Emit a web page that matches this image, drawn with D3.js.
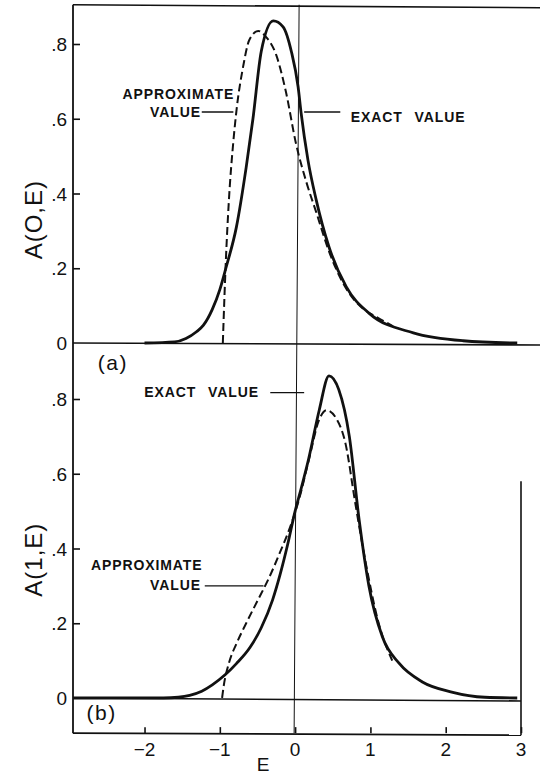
<!DOCTYPE html>
<html>
<head>
<script src="https://cdn.jsdelivr.net/npm/d3@7"></script>
<style>
  body { margin: 0; background: #fff; }
  text { font-family: "Liberation Sans", Arial, sans-serif; fill: #111; }
</style>
</head>
<body>
<div id="chart"></div>
<script>
// panel (a): A(0,E)
var exactA = [[-2.0,0],[-1.6,0.003],[-1.45,0.012],[-1.31,0.03],[-1.22,0.047],[-1.1,0.09],[-1.0,0.143],[-0.92,0.2],[-0.78,0.31],[-0.65,0.47],[-0.56,0.6],[-0.45,0.78],[-0.29,0.862],[-0.16,0.846],[-0.05,0.78],[0.04,0.685],[0.08,0.615],[0.17,0.49],[0.28,0.383],[0.45,0.257],[0.68,0.15],[0.98,0.08],[1.57,0.027],[2.23,0.006],[2.95,0]];
var approxA = [[-0.96,0],[-0.94,0.116],[-0.92,0.22],[-0.88,0.38],[-0.82,0.54],[-0.78,0.62],[-0.69,0.74],[-0.61,0.81],[-0.49,0.835],[-0.39,0.82],[-0.25,0.77],[-0.12,0.67],[0.01,0.535],[0.15,0.43],[0.28,0.35],[0.45,0.245],[0.68,0.145],[0.9,0.092],[1.08,0.07],[1.3,0.045]];
// panel (b): A(1,E)
var exactB = [[-2.95,0],[-1.75,0],[-1.55,0.002],[-1.4,0.007],[-1.24,0.018],[-1.1,0.035],[-0.93,0.062],[-0.78,0.092],[-0.6,0.135],[-0.45,0.188],[-0.3,0.262],[-0.2,0.33],[-0.1,0.41],[0,0.5],[0.08,0.56],[0.18,0.64],[0.32,0.77],[0.45,0.862],[0.58,0.825],[0.72,0.7],[0.85,0.477],[0.98,0.3],[1.16,0.163],[1.38,0.093],[1.69,0.043],[2.08,0.016],[2.52,0.002],[2.95,0]];
var approxB = [[-0.97,0],[-0.95,0.03],[-0.88,0.093],[-0.78,0.145],[-0.65,0.2],[-0.5,0.26],[-0.35,0.32],[-0.2,0.39],[-0.08,0.45],[0.05,0.53],[0.18,0.635],[0.32,0.745],[0.42,0.77],[0.53,0.753],[0.67,0.68],[0.8,0.52],[0.93,0.37],[1.11,0.2],[1.29,0.1]];

var yTicks = [0, 0.2, 0.4, 0.6, 0.8];
var yTickLabels = ["0", ".2", ".4", ".6", ".8"];
var xTicks = [-2, -1, 0, 1, 2, 3];
var xTickLabels = ["\u22122", "\u22121", "0", "1", "2", "3"];

var W = 540, H = 776;
var svg = d3.select("#chart").append("svg").attr("width", W).attr("height", H);

var x = d3.scaleLinear().domain([-2.95, 3]).range([73, 521]);
var yA = d3.scaleLinear().domain([0, 0.8]).range([343, 44]);
var yB = d3.scaleLinear().domain([0, 0.8]).range([698, 399]);

var frameTop = yA(0.905), frameBottom = yB(-0.094);

// frame
svg.append("line").attr("x1", x(-2.95)).attr("x2", W).attr("y1", frameTop).attr("y2", frameTop + 3)
  .attr("stroke", "#111").attr("stroke-width", 1.6);
svg.append("line").attr("x1", x(-2.95)).attr("x2", x(-2.95)).attr("y1", frameTop).attr("y2", frameBottom)
  .attr("stroke", "#111").attr("stroke-width", 1.8);
svg.append("line").attr("x1", x(-2.95)).attr("x2", x(3)).attr("y1", frameBottom).attr("y2", frameBottom + 2)
  .attr("stroke", "#111").attr("stroke-width", 1.8);
svg.append("line").attr("x1", x(3)).attr("x2", x(3)).attr("y1", yB(0.58)).attr("y2", frameBottom + 2)
  .attr("stroke", "#111").attr("stroke-width", 1.6);
// E = 0 line
svg.append("line").attr("x1", x(0) + 4).attr("x2", x(0) - 1).attr("y1", frameTop).attr("y2", frameBottom)
  .attr("stroke", "#111").attr("stroke-width", 1);
// zero baselines
svg.append("line").attr("x1", x(-2.95)).attr("x2", W).attr("y1", yA(0)).attr("y2", yA(0) + 2)
  .attr("stroke", "#111").attr("stroke-width", 1.6);
svg.append("line").attr("x1", x(-2.95)).attr("x2", x(3)).attr("y1", yB(0)).attr("y2", yB(0) + 3)
  .attr("stroke", "#111").attr("stroke-width", 1.6);

function yAxis(y) {
  var ax = d3.axisRight(y).tickValues(yTicks.slice(1)).tickSize(7).tickFormat("");
  svg.append("g").attr("transform", "translate(" + x(-2.95) + ",0)").call(ax)
    .call(function (s) { s.select(".domain").remove(); s.selectAll("line").attr("stroke", "#111").attr("stroke-width", 1.6); });
  svg.append("g").selectAll("text").data(yTicks).enter().append("text")
    .attr("x", x(-2.95) - 6).attr("y", function (d) { return y(d) + 7; })
    .attr("text-anchor", "end").attr("font-size", 19)
    .text(function (d, i) { return yTickLabels[i]; });
}
yAxis(yA);
yAxis(yB);

// bottom E axis
var xa = d3.axisTop(x).tickValues(xTicks).tickSize(6).tickFormat("");
svg.append("g").attr("transform", "translate(0," + frameBottom + ")").call(xa)
  .call(function (s) { s.select(".domain").remove(); s.selectAll("line").attr("stroke", "#111").attr("stroke-width", 1.6); });
svg.append("g").selectAll("text").data(xTicks).enter().append("text")
  .attr("x", function (d) { return x(d); }).attr("y", frameBottom + 23)
  .attr("text-anchor", "middle").attr("font-size", 19)
  .text(function (d, i) { return xTickLabels[i]; });
svg.append("text").attr("x", 263).attr("y", 771).attr("text-anchor", "middle").attr("font-size", 19).text("E");

// y titles
svg.append("text").attr("transform", "translate(42," + yA(0.33) + ") rotate(-90)")
  .attr("text-anchor", "middle").attr("font-size", 24).attr("letter-spacing", 1).text("A(O,E)");
svg.append("text").attr("transform", "translate(42," + yB(0.37) + ") rotate(-90)")
  .attr("text-anchor", "middle").attr("font-size", 24).attr("letter-spacing", 1).text("A(1,E)");

// curves
var line = function (y) {
  return d3.line().x(function (d) { return x(d[0]); }).y(function (d) { return y(d[1]); }).curve(d3.curveMonotoneX);
};
svg.append("path").datum(exactA).attr("d", line(yA)).attr("fill", "none").attr("stroke", "#111").attr("stroke-width", 2.8);
svg.append("path").datum(approxA).attr("d", line(yA)).attr("fill", "none").attr("stroke", "#111").attr("stroke-width", 2).attr("stroke-dasharray", "8,4");
svg.append("path").datum(exactB).attr("d", line(yB)).attr("fill", "none").attr("stroke", "#111").attr("stroke-width", 2.8);
svg.append("path").datum(approxB).attr("d", line(yB)).attr("fill", "none").attr("stroke", "#111").attr("stroke-width", 2).attr("stroke-dasharray", "8,4");

// panel labels
svg.append("text").attr("x", x(-2.62)).attr("y", yA(-0.072)).attr("font-size", 21).attr("letter-spacing", 1.5).text("(a)");
svg.append("text").attr("x", x(-2.77)).attr("y", yB(-0.06)).attr("font-size", 21).attr("letter-spacing", 1.5).text("(b)");

// annotations
function note(tx, ty, txt, anchor) {
  svg.append("text").attr("x", tx).attr("y", ty).attr("text-anchor", anchor || "start")
    .attr("font-size", 14).attr("font-weight", "bold").attr("letter-spacing", 0.9).attr("word-spacing", 7).text(txt);
}
function leader(e1, e2, v, y) {
  svg.append("line").attr("x1", x(e1)).attr("x2", x(e2)).attr("y1", y(v)).attr("y2", y(v))
    .attr("stroke", "#111").attr("stroke-width", 1.4);
}
note(x(-0.81), yA(0.653), "APPROXIMATE", "end");
note(x(-1.25), yA(0.605), "VALUE", "end");
leader(-1.24, -0.82, 0.618, yA);
note(x(0.74), yA(0.592), "EXACT VALUE");
leader(0.12, 0.6, 0.618, yA);

note(x(-0.48), yB(0.806), "EXACT VALUE", "end");
leader(-0.33, 0.12, 0.817, yB);
note(x(-1.23), yB(0.343), "APPROXIMATE", "end");
note(x(-1.25), yB(0.289), "VALUE", "end");
leader(-1.2, -0.42, 0.30, yB);
</script>
</body>
</html>
